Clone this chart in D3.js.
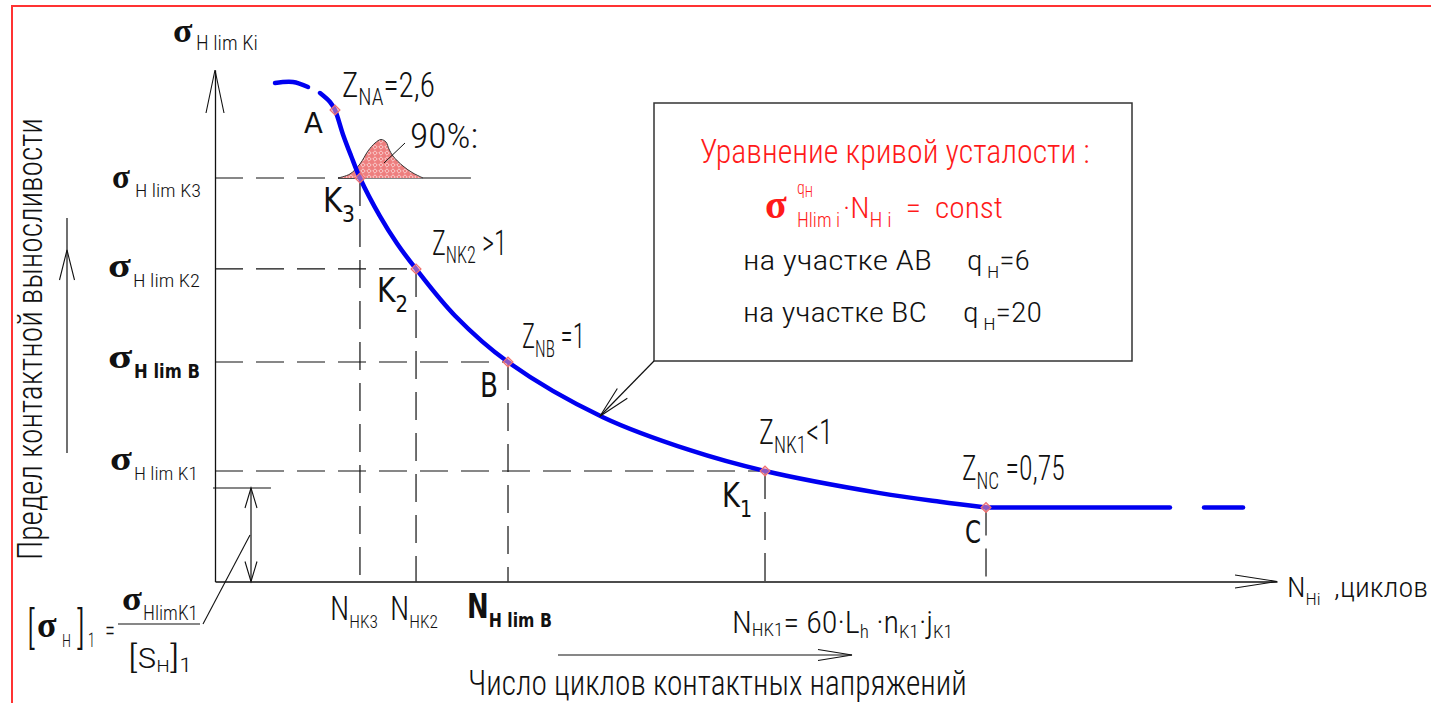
<!DOCTYPE html>
<html>
<head>
<meta charset="utf-8">
<script src="https://cdn.jsdelivr.net/npm/d3@7"></script>
<style>
  html, body { margin: 0; padding: 0; background: #fff; overflow: hidden; }
  text { white-space: pre; }
</style>
</head>
<body>
<svg id="chart" width="1431" height="703"></svg>
<script>
// Contact fatigue curve, relative units (% of the cycle axis, % of the stress axis)
const curveHead = [[5.65, 97.46], [7.34, 97.65], [8.76, 96.68]];
const curveBody = [
  [9.89, 95.5], [10.83, 93.74], [11.3, 92.18], [12.05, 87.41], [12.81, 83.23],
  [13.65, 78.89], [15.54, 71.38], [17.14, 66.08], [18.93, 61.1], [22.6, 51.96],
  [27.59, 42.91], [36.53, 32.12], [44.73, 25.67], [51.79, 21.6], [62.62, 17.28],
  [68.27, 15.58], [72.6, 14.47]
];
// horizontal branch beyond C (endurance limit)
const curveFlat = [[72.6, 14.47], [89.92, 14.47]];
const curveTail = [[93.13, 14.47], [96.8, 14.47]];

// characteristic points of the curve
const pointNames = ["A", "K3", "K2", "B", "K1", "C"];
const pointN     = [11.3, 13.65, 18.93, 27.59, 51.79, 72.6];
const pointSigma = [92.18, 78.89, 61.1, 42.91, 21.6, 14.47];

// scatter of the endurance limit at K3 (90 %)
const bellN     = [11.58, 12.71, 13.65, 14.41, 15.07, 15.63, 16.1, 16.38, 16.76, 17.7, 18.64, 19.59];
const bellSigma = [78.89, 79.67, 81.63, 84.17, 85.73, 86.41, 85.92, 84.55, 83.18, 81.23, 79.86, 78.89];
const bellBaseEnd = 24.1;

// allowable stress level [σH]1
const allowSigma = 18.28;
const allowN = 3.39;
const allowTickEnd = 5.27;

// callout target on the curve (index into curveBody)
const calloutIdx = 11;

const INK = "#111";
const BLUE = "#0000f0";
const RED = "#ff1a1a";
const G = "'Roboto Condensed', 'Liberation Sans Narrow', Roboto, sans-serif";
const SANS = "'DejaVu Sans', sans-serif";
const SIG = "'Liberation Serif', 'DejaVu Serif', serif";

const svg = d3.select("#chart");
const x = d3.scaleLinear().domain([0, 100]).range([215, 1277]);
const y = d3.scaleLinear().domain([0, 100]).range([581.5, 70]);

// page frame
svg.append("path").attr("d", "M12,703V6H1431")
  .attr("fill", "none").attr("stroke", "#ff3333").attr("stroke-width", 2);

const defs = svg.append("defs");
const pat = defs.append("pattern").attr("id", "hatch")
  .attr("patternUnits", "userSpaceOnUse").attr("width", 6).attr("height", 6);
pat.append("rect").attr("width", 6).attr("height", 6).attr("fill", "#ee7f7f");
pat.append("path").attr("d", "M3,0.8L5.2,3L3,5.2L0.8,3Z")
  .attr("fill", "none").attr("stroke", "#fff").attr("stroke-width", 0.8).attr("opacity", 0.75);

function arrowHead(g, x1, y1, x2, y2, len, hw) {
  const d = Math.hypot(x2 - x1, y2 - y1), ux = (x2 - x1) / d, uy = (y2 - y1) / d;
  const bx = x2 - len * ux, by = y2 - len * uy;
  g.append("path")
    .attr("d", `M${bx - hw * uy},${by + hw * ux}L${x2},${y2}L${bx + hw * uy},${by - hw * ux}`)
    .attr("fill", "none").attr("stroke", INK).attr("stroke-width", 1.1);
}
function arrow(g, x1, y1, x2, y2, len, hw) {
  g.append("line").attr("x1", x1).attr("y1", y1).attr("x2", x2).attr("y2", y2)
    .attr("stroke", INK).attr("stroke-width", 1.2);
  arrowHead(g, x1, y1, x2, y2, len, hw);
}

// axes
const axes = svg.append("g");
axes.append("g").attr("transform", `translate(0,${y(0)})`)
  .call(d3.axisBottom(x).tickValues([]).tickSizeOuter(0))
  .call(s => s.select(".domain").attr("stroke", INK).attr("stroke-width", 1.3));
axes.append("g").attr("transform", `translate(${x(0)},0)`)
  .call(d3.axisLeft(y).tickValues([]).tickSizeOuter(0))
  .call(s => s.select(".domain").attr("stroke", INK).attr("stroke-width", 1.3));
arrowHead(axes, x(0), y(0), x(100), y(0), 42, 6.5);
arrowHead(axes, x(0), y(0), x(0), y(100), 43, 9);

// projection lines from the characteristic points
const guides = svg.append("g").attr("stroke", INK).attr("stroke-width", 1.2)
  .attr("stroke-dasharray", "28,13").attr("fill", "none");
[1, 2, 3, 4].forEach(i => {
  guides.append("line").attr("x1", x(0)).attr("x2", x(pointN[i]))
    .attr("y1", y(pointSigma[i])).attr("y2", y(pointSigma[i]));
});
[1, 2, 3, 4, 5].forEach(i => {
  guides.append("line").attr("x1", x(pointN[i])).attr("x2", x(pointN[i]))
    .attr("y1", y(pointSigma[i])).attr("y2", y(0));
});

// allowable stress: short level line and double arrow
svg.append("line").attr("x1", x(0) - 2).attr("x2", x(allowTickEnd))
  .attr("y1", y(allowSigma)).attr("y2", y(allowSigma))
  .attr("stroke", INK).attr("stroke-width", 1.2);
svg.append("line").attr("x1", x(allowN)).attr("x2", x(allowN))
  .attr("y1", y(allowSigma)).attr("y2", y(0)).attr("stroke", INK).attr("stroke-width", 1.2);
arrowHead(svg, x(allowN), y(0), x(allowN), y(allowSigma), 20, 6);
arrowHead(svg, x(allowN), y(allowSigma), x(allowN), y(0), 20, 6);
svg.append("line").attr("x1", x(allowN) - 1).attr("y1", 535).attr("x2", 203).attr("y2", 624)
  .attr("stroke", INK).attr("stroke-width", 1.1);

// scatter band at K3
const bell = bellN.map((n, i) => [n, bellSigma[i]]);
svg.append("line").attr("x1", x(bellN[0])).attr("x2", x(bellBaseEnd))
  .attr("y1", y(pointSigma[1])).attr("y2", y(pointSigma[1]))
  .attr("stroke", INK).attr("stroke-width", 1.2);
svg.append("path").datum(bell)
  .attr("d", d3.area().x(d => x(d[0])).y0(y(pointSigma[1])).y1(d => y(d[1])).curve(d3.curveCatmullRom))
  .attr("fill", "url(#hatch)");
svg.append("path").datum(bell)
  .attr("d", d3.line().x(d => x(d[0])).y(d => y(d[1])).curve(d3.curveCatmullRom))
  .attr("fill", "none").attr("stroke", "#333").attr("stroke-width", 1);

// fatigue curve
const smooth = d3.line().x(d => x(d[0])).y(d => y(d[1])).curve(d3.curveCatmullRom.alpha(0.5));
const straight = d3.line().x(d => x(d[0])).y(d => y(d[1]));
[[curveHead, smooth], [curveBody, smooth], [curveFlat, straight], [curveTail, straight]].forEach(([seg, gen]) => {
  svg.append("path").datum(seg).attr("d", gen)
    .attr("fill", "none").attr("stroke", BLUE).attr("stroke-width", 4.5)
    .attr("stroke-linecap", "round").attr("stroke-linejoin", "round");
});

// point markers
svg.append("g").selectAll("rect").data(pointNames).join("rect")
  .attr("x", -3.5).attr("y", -3.5).attr("width", 7).attr("height", 7)
  .attr("transform", (d, i) => `translate(${x(pointN[i])},${y(pointSigma[i])}) rotate(45)`)
  .attr("fill", "rgba(255,160,160,0.55)").attr("stroke", "#f07070").attr("stroke-width", 1.2);

// text helper: parts flow left to right, then the whole line is fitted to [x0, x1]
function rich(parent, parts, x0, x1, fill) {
  const t = parent.append("text").attr("x", x0).attr("fill", fill || INK);
  parts.forEach(p => {
    t.append("tspan").attr("y", p.y).attr("font-family", p.f || G)
      .attr("font-size", p.s).attr("font-weight", p.w || (p.f === SIG ? 700 : (p.f === SANS ? 400 : 300)))
      .text(p.t);
  });
  const b = t.node().getBBox();
  const k = (x1 - x0) / b.width;
  t.attr("transform", `translate(${x0},0) scale(${k},1) translate(${-b.x},0)`);
  return t;
}
const sigma = (parent, x0, x1, base, size, fill) =>
  rich(parent, [{t: "σ", f: SIG, s: size, y: base}], x0, x1, fill);

// axis titles
sigma(svg, 173, 193, 42, 34);
rich(svg, [{t: "H lim Ki", s: 20, y: 50}], 196, 258);
rich(svg, [{t: "N", s: 28, y: 597}, {t: "Hi", s: 17, y: 605}, {t: "  ,циклов", s: 28, y: 597}], 1287, 1428);

const rot = svg.append("g").attr("transform", "rotate(-90)");
rich(rot, [{t: "Предел контактной выносливости", s: 35, y: 42}], -560, -118);
svg.append("line").attr("x1", 67).attr("x2", 67).attr("y1", 453).attr("y2", 218)
  .attr("stroke", INK).attr("stroke-width", 1.2);
arrowHead(svg, 67, 300, 67, 250, 30, 7.5);

rich(svg, [{t: "Число циклов контактных напряжений", s: 35, y: 695}], 468, 967);
arrow(svg, 558, 655, 852, 655, 34, 5.5);

// stress level labels
sigma(svg, 112, 130, 188, 33);
rich(svg, [{t: "H lim K3", s: 18, y: 197}], 135, 201);
sigma(svg, 108, 131, 277, 33);
rich(svg, [{t: "H lim K2", s: 18, y: 287}], 133, 200);
sigma(svg, 108, 133, 368, 34);
rich(svg, [{t: "H lim B", f: SANS, w: 700, s: 20, y: 378}], 134, 200);
sigma(svg, 110, 132, 470, 33);
rich(svg, [{t: "H lim K1", s: 18, y: 480}], 134, 198);

// cycle labels
rich(svg, [{t: "N", s: 34, y: 620}, {t: "HK3", s: 19, y: 628}], 330, 378);
rich(svg, [{t: "N", s: 34, y: 620}, {t: "HK2", s: 19, y: 628}], 390, 438);
rich(svg, [{t: "N", f: SANS, w: 700, s: 33, y: 618}, {t: "H lim B", f: SANS, w: 700, s: 20, y: 627}], 467, 552);
rich(svg, [
  {t: "N", s: 32, y: 633}, {t: "HK1", s: 19, y: 636}, {t: "= 60·L", s: 32, y: 633},
  {t: "h", s: 19, y: 638}, {t: " ·n", s: 32, y: 633}, {t: "K1", s: 19, y: 638},
  {t: "·j", s: 32, y: 633}, {t: "K1", s: 19, y: 638}
], 732, 953);

// factor labels
rich(svg, [{t: "Z", s: 35, y: 97}, {t: "NA", s: 24, y: 105}, {t: "=2,6", s: 35, y: 97}], 342, 435);
rich(svg, [{t: "Z", s: 35, y: 255}, {t: "NK2", s: 24, y: 263}, {t: " >1", s: 35, y: 255}], 432, 507);
rich(svg, [{t: "Z", s: 35, y: 348}, {t: "NB", s: 24, y: 357}, {t: " =1", s: 35, y: 348}], 522, 585);
rich(svg, [{t: "Z", s: 35, y: 444}, {t: "NK1", s: 24, y: 453}, {t: "<1", s: 35, y: 444}], 759, 833);
rich(svg, [{t: "Z", s: 35, y: 480}, {t: "NC", s: 24, y: 489}, {t: " =0,75", s: 35, y: 480}], 962, 1065);

// point letters
rich(svg, [{t: "A", f: SANS, s: 29, y: 133}], 304, 323);
rich(svg, [{t: "K", f: SANS, s: 33, y: 212}, {t: "3", f: SANS, s: 23, y: 222}], 323, 355);
rich(svg, [{t: "K", f: SANS, s: 33, y: 302}, {t: "2", f: SANS, s: 23, y: 312}], 377, 408);
rich(svg, [{t: "B", f: SANS, s: 34, y: 397}], 480, 498);
rich(svg, [{t: "K", f: SANS, s: 33, y: 507}, {t: "1", f: SANS, s: 23, y: 517}], 722, 752);
rich(svg, [{t: "C", f: SANS, s: 32, y: 543}], 965, 981);

// 90 % scatter label
rich(svg, [{t: "90%:", s: 35, y: 148}], 410, 478);
svg.append("line").attr("x1", 405).attr("y1", 143).attr("x2", 384).attr("y2", 163)
  .attr("stroke", INK).attr("stroke-width", 1);

// equation box with callout
svg.append("rect").attr("x", 654).attr("y", 103).attr("width", 478).attr("height", 258)
  .attr("fill", "none").attr("stroke", "#333").attr("stroke-width", 1.5);
const tip = curveBody[calloutIdx];
arrow(svg, 654, 361, x(tip[0]) - 3, y(tip[1]) - 1, 32, 7);

rich(svg, [{t: "Уравнение кривой усталости :", s: 33, y: 163}], 700, 1090, RED);
sigma(svg, 765, 787, 218, 40, RED);
rich(svg, [{t: "q", s: 18, y: 194}, {t: "H", s: 15, y: 197}], 797, 813, RED);
rich(svg, [{t: "Hlim i", s: 20, y: 227}], 797, 840, RED);
rich(svg, [{t: "·N", s: 30, y: 218}, {t: "H i", s: 20, y: 227}, {t: "  =  const", s: 30, y: 218}], 843, 1003, RED);
rich(svg, [{t: "на участке АВ", s: 27, y: 270}], 743, 932);
rich(svg, [{t: "q", s: 27, y: 270}, {t: " H", s: 17, y: 278}, {t: "=6", s: 27, y: 270}], 967, 1030);
rich(svg, [{t: "на участке ВС", s: 27, y: 322}], 743, 927);
rich(svg, [{t: "q", s: 27, y: 322}, {t: " H", s: 17, y: 330}, {t: "=20", s: 27, y: 322}], 963, 1042);

// allowable stress formula
rich(svg, [{t: "[", s: 44, y: 643}], 27, 35);
sigma(svg, 37, 57, 637, 36);
rich(svg, [{t: "H", s: 18, y: 647}], 62, 71);
rich(svg, [{t: "]", s: 44, y: 643}], 77, 85);
rich(svg, [{t: "1", s: 20, y: 647}], 88, 95);
rich(svg, [{t: "=", s: 28, y: 640}], 105, 115);
sigma(svg, 122, 142, 610, 33);
rich(svg, [{t: "HlimK1", s: 20, y: 620}], 143, 198);
svg.append("line").attr("x1", 118).attr("x2", 200).attr("y1", 624).attr("y2", 624)
  .attr("stroke", INK).attr("stroke-width", 1.2);
rich(svg, [
  {t: "[", s: 32, y: 668}, {t: "S", s: 28, y: 668}, {t: "H", s: 17, y: 672},
  {t: "]", s: 32, y: 668}, {t: "1", s: 20, y: 672}
], 128, 192);
</script>
</body>
</html>
